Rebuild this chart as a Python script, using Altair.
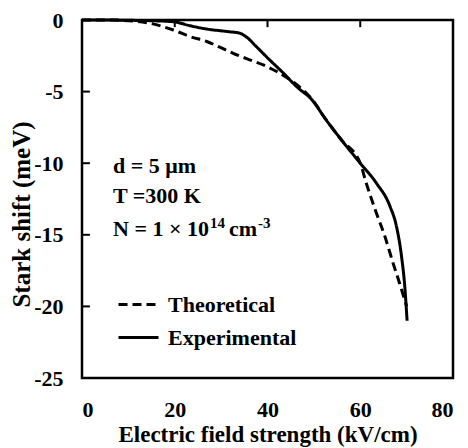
import altair as alt
import pandas as pd

# ---- data ----
theo_x = [0, 5, 10, 14.7, 19.7, 23.3, 26.9, 29.7, 32.6, 35.5, 39.1, 42.0, 45.0, 47.7,
          49.5, 52.7, 56.0, 60.0, 61.3, 63.5, 65.3, 67.1, 68.5, 70.0]
theo_y = [0, 0, -0.05, -0.23, -0.7, -1.16, -1.5, -1.9, -2.33, -2.7, -3.14, -3.6, -4.2, -4.9,
          -5.5, -7.0, -8.4, -10.0, -11.4, -13.5, -15.1, -17.0, -18.4, -20.0]

exp_x = [0, 5, 10, 15, 19.7, 23.3, 26.9, 31.2, 34.0, 35.5, 37.6, 40.5, 43.4, 46.3,
         49.5, 52.7, 56.0, 60.0, 63.5, 66.4, 67.8, 68.9, 69.6, 70.1]
exp_y = [0, 0, -0.02, -0.05, -0.12, -0.4, -0.63, -0.8, -0.92, -1.2, -1.86, -2.8, -3.7, -4.66,
         -5.55, -7.0, -8.4, -10.0, -11.4, -13.0, -14.4, -16.5, -18.6, -21.0]

series_names = ["Theoretical", "Experimental"]
x_ticks = [0, 20, 40, 60, 80]
y_ticks = [0, -5, -10, -15, -20, -25]
note_line1 = "d = 5 μm"
note_line2 = "T =300 K"
note_line3 = ["N = 1 × 10", "14", "cm", "-3"]

FONT = "Liberation Serif"

df = pd.concat([
    pd.DataFrame({"x": theo_x, "y": theo_y, "series": series_names[0]}),
    pd.DataFrame({"x": exp_x, "y": exp_y, "series": series_names[1]}),
])

xscale = alt.Scale(domain=[0, 80], nice=False, zero=False)
yscale = alt.Scale(domain=[-25, 0], nice=False, zero=False)
xaxis = alt.Axis(values=x_ticks, title="Electric field strength (kV/cm)",
                 labelPadding=21, titleFontSize=23, titleY=63,
                 titleBaseline="alphabetic", labelExpr="'' + datum.value")
yaxis = alt.Axis(values=y_ticks, title="Stark shift (meV)", labelPadding=19,
                 titleFontSize=25, titleAngle=-90, titleX=-53, titleY=194,
                 titleAlign="center", titleBaseline="alphabetic",
                 labelExpr="'' + datum.value")

lines = alt.Chart(df).mark_line(color="black", strokeWidth=3, interpolate="monotone").encode(
    x=alt.X("x:Q", scale=xscale, axis=xaxis),
    y=alt.Y("y:Q", scale=yscale, axis=yaxis),
    strokeDash=alt.StrokeDash(
        "series:N",
        scale=alt.Scale(domain=series_names, range=[[9, 5], [1, 0]]),
        legend=alt.Legend(title=None, orient="none", legendX=35, legendY=263,
                          symbolType="stroke", symbolSize=1600, symbolStrokeWidth=3,
                          symbolStrokeColor="black", labelFont=FONT, labelFontSize=22,
                          labelFontWeight="bold", labelColor="black", labelOffset=8,
                          rowPadding=0),
    ),
)

# inward tick marks (left edge and top edge), drawn from the tick arrays
ytick = alt.Chart(pd.DataFrame({"y": y_ticks})).mark_rule(color="black", strokeWidth=2).encode(
    y=alt.Y("y:Q", scale=yscale, axis=yaxis), x=alt.datum(0, scale=xscale), x2=alt.datum(1.7))
xtick = alt.Chart(pd.DataFrame({"x": x_ticks})).mark_rule(color="black", strokeWidth=2).encode(
    x=alt.X("x:Q", scale=xscale, axis=xaxis), y=alt.datum(0, scale=yscale), y2=alt.datum(-0.5))

one = pd.DataFrame({"a": [0]})
txt = dict(align="left", baseline="alphabetic", font=FONT, fontWeight="bold", color="black")
n1 = alt.Chart(one).mark_text(text=note_line1, fontSize=22, **txt).encode(
    x=alt.value(31), y=alt.value(152.7))
n2 = alt.Chart(one).mark_text(text=note_line2, fontSize=22, **txt).encode(
    x=alt.value(31), y=alt.value(182.7))
n3a = alt.Chart(one).mark_text(text=note_line3[0], fontSize=22, **txt).encode(
    x=alt.value(31), y=alt.value(216))
n3b = alt.Chart(one).mark_text(text=note_line3[1], fontSize=15, dx=97, dy=-8, **txt).encode(
    x=alt.value(31), y=alt.value(216))
n3c = alt.Chart(one).mark_text(text=note_line3[2], fontSize=22, dx=116, **txt).encode(
    x=alt.value(31), y=alt.value(216))
n3d = alt.Chart(one).mark_text(text=note_line3[3], fontSize=15, dx=145, dy=-8, **txt).encode(
    x=alt.value(31), y=alt.value(216))

chart = alt.layer(lines, ytick, xtick, n1, n2, n3a, n3b, n3c, n3d).properties(
    width=371, height=358,
    autosize=alt.AutoSizeParams(type="none"),
    padding={"left": 74, "top": 12, "right": 7, "bottom": 70},
).configure_view(stroke="black", strokeWidth=2.5).configure_axis(
    grid=False, ticks=False, tickSize=0, domain=False,
    labelFont=FONT, labelFontSize=22, labelFontWeight="bold", labelColor="black",
    titleFont=FONT, titleFontWeight="bold", titleColor="black",
)

chart.save("out.html", embed_options={"renderer": "svg", "actions": False})
